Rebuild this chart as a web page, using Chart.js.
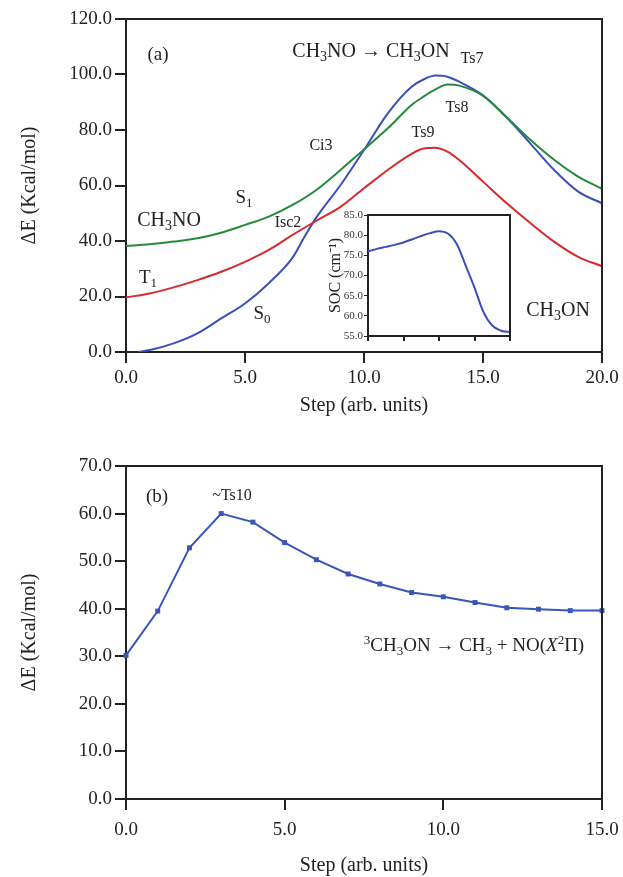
<!DOCTYPE html>
<html>
<head>
<meta charset="utf-8">
<script src="https://cdn.jsdelivr.net/npm/chart.js@4"></script>
<style>
  html, body { margin: 0; padding: 0; background: #fff; }
  body { width: 623px; height: 877px; position: relative; overflow: hidden; }
  canvas { position: absolute; }
</style>
</head>
<body>
<canvas id="chartA" style="left:0;top:0" width="623" height="430"></canvas>
<canvas id="chartInset" style="left:300px;top:205px" width="220" height="142"></canvas>
<canvas id="chartB" style="left:0;top:445px" width="623" height="432"></canvas>
<script>
// данные панели (a)
const topSteps = [0, 1, 2, 3, 4, 5, 6, 7, 8, 9, 10, 11, 12, 12.5, 13, 13.5, 14, 15, 16, 17, 18, 19, 20];
const s1Values = [38.2, 38.8, 39.8, 41.0, 43.0, 45.8, 48.8, 53.0, 58.4, 65.5, 73.0, 80.6, 89.0, 92.0, 94.6, 96.4, 96.0, 92.3, 84.5, 76.4, 69.2, 63.2, 58.8];
const t1Values = [19.7, 21.1, 23.3, 25.9, 28.9, 32.5, 36.8, 42.2, 47.3, 52.2, 59.0, 65.6, 71.4, 73.3, 73.6, 72.2, 69.2, 61.4, 53.6, 46.4, 39.7, 34.3, 30.9];
const s0Steps = [0.5, 1, 2, 3, 4, 5, 6, 7, 7.5, 8, 9, 10, 11, 12, 12.5, 13, 13.5, 14, 15, 16, 17, 18, 19, 20];
const s0Values = [0, 0.7, 3.1, 6.7, 12.1, 17.5, 24.8, 34.0, 41.5, 48.5, 60.0, 72.8, 86.0, 95.6, 98.2, 99.6, 99.2, 97.4, 92.5, 84.5, 75.0, 65.5, 57.8, 53.6];

// вставка SOC
const insetSteps = [0, 0.25, 0.5, 0.75, 1, 1.25, 1.5, 1.75, 2, 2.25, 2.5, 2.75, 3, 3.25, 3.5, 3.75, 4];
const socValues = [76.0, 76.6, 77.1, 77.6, 78.2, 79.0, 79.8, 80.5, 81.0, 80.4, 77.8, 72.5, 67.0, 61.0, 57.6, 56.3, 56.0];

// данные панели (b)
const bSteps = [0, 1, 2, 3, 4, 5, 6, 7, 8, 9, 10, 11, 12, 13, 14, 15];
const bValues = [30.2, 39.5, 52.8, 60.0, 58.2, 53.9, 50.3, 47.3, 45.2, 43.4, 42.5, 41.3, 40.2, 39.9, 39.6, 39.6];

const SERIF = '"Liberation Serif", "Times New Roman", serif';
const BLUE = '#3a50b6';
const GREEN = '#258a3c';
const RED = '#d42b2b';

function pts(xs, ys) {
    return xs.map((x, i) => ({ x: x, y: ys[i] }));
}

// текст с индексами: части [текст, 'sub'|'sup'|'it'|'']
function drawRich(ctx, cx, baseline, parts, size) {
    const small = Math.round(size * 0.68);
    let total = 0;
    parts.forEach(p => {
        const mode = p[1] || '';
        const sz = (mode === 'sub' || mode === 'sup') ? small : size;
        ctx.font = (mode === 'it' ? 'italic ' : '') + sz + 'px ' + SERIF;
        total += ctx.measureText(p[0]).width;
    });
    let x = cx - total / 2;
    ctx.textAlign = 'left';
    ctx.textBaseline = 'alphabetic';
    ctx.fillStyle = '#222';
    parts.forEach(p => {
        const mode = p[1] || '';
        const sz = (mode === 'sub' || mode === 'sup') ? small : size;
        ctx.font = (mode === 'it' ? 'italic ' : '') + sz + 'px ' + SERIF;
        let y = baseline;
        if (mode === 'sub') y += size * 0.22;
        if (mode === 'sup') y -= size * 0.38;
        ctx.fillText(p[0], x, y);
        x += ctx.measureText(p[0]).width;
    });
}

// рамка сверху и справа
const framePlugin = {
    id: 'frame',
    beforeDraw(chart) {
        const opts = chart.options.plugins.frame || {};
        if (opts.fill) {
            const a = chart.chartArea;
            chart.ctx.save();
            chart.ctx.fillStyle = '#fff';
            chart.ctx.fillRect(a.left, a.top, a.right - a.left, a.bottom - a.top);
            chart.ctx.restore();
        }
    },
    afterDraw(chart) {
        const a = chart.chartArea;
        const ctx = chart.ctx;
        const opts = chart.options.plugins.frame || {};
        ctx.save();
        ctx.strokeStyle = '#222';
        ctx.lineWidth = opts.width || 2;
        ctx.beginPath();
        ctx.moveTo(a.left, a.top);
        ctx.lineTo(a.right, a.top);
        ctx.lineTo(a.right, a.bottom);
        ctx.stroke();
        ctx.restore();
    }
};

// подписи на графиках
const labelsPlugin = {
    id: 'labels',
    afterDatasetsDraw(chart) {
        const list = chart.options.plugins.labels.items || [];
        const ctx = chart.ctx;
        ctx.save();
        list.forEach(it => drawRich(ctx, it.x, it.y, it.parts, it.size));
        ctx.restore();
    }
};

function axisX(min, max, step, boxHeight, pad) {
    return {
        type: 'linear', min: min, max: max,
        afterFit: s => { s.height = boxHeight; s.paddingLeft = 0; s.paddingRight = 0; },
        border: { display: true, color: '#222', width: 2 },
        grid: { display: true, drawOnChartArea: false, drawTicks: true, tickLength: 11, color: '#222', lineWidth: 2 },
        ticks: {
            stepSize: step, padding: pad, color: '#222',
            font: { family: SERIF, size: 19 },
            callback: v => v.toFixed(1), maxRotation: 0
        }
    };
}

function axisY(min, max, step, boxWidth) {
    return {
        type: 'linear', min: min, max: max,
        afterFit: s => { s.width = boxWidth; },
        border: { display: true, color: '#222', width: 2 },
        grid: { display: true, drawOnChartArea: false, drawTicks: true, tickLength: 11, color: '#222', lineWidth: 2 },
        ticks: {
            stepSize: step, padding: 3, color: '#222',
            font: { family: SERIF, size: 19 },
            callback: v => v.toFixed(1)
        }
    };
}

const titleFont = { family: SERIF, size: 20 };

// панель (a)
const xA = axisX(0, 20, 5, 78, 4);
xA.title = { display: true, text: 'Step (arb. units)', color: '#222', font: titleFont, padding: { top: 0, bottom: 12 } };
const yA = axisY(0, 120, 20, 126);
yA.title = { display: true, text: 'ΔE (Kcal/mol)', color: '#222', font: titleFont, padding: { top: 18, bottom: 0 } };

new Chart(document.getElementById('chartA'), {
    type: 'line',
    data: {
        datasets: [
            { label: 'S1', data: pts(topSteps, s1Values), borderColor: GREEN },
            { label: 'T1', data: pts(topSteps, t1Values), borderColor: RED },
            { label: 'S0', data: pts(s0Steps, s0Values), borderColor: BLUE }
        ].map(d => Object.assign(d, { borderWidth: 2, pointRadius: 0, tension: 0.4, cubicInterpolationMode: 'monotone', fill: false }))
    },
    options: {
        responsive: false, animation: false,
        layout: { autoPadding: false, padding: { top: 19, right: 21, left: 0, bottom: 0 } },
        scales: { x: xA, y: yA },
        plugins: {
            legend: { display: false }, tooltip: { enabled: false },
            frame: { width: 2 },
            labels: {
                items: [
                    { x: 158, y: 60, size: 19, parts: [['(a)']] },
                    { x: 371, y: 57, size: 20, parts: [['CH'], ['3', 'sub'], ['NO → CH'], ['3', 'sub'], ['ON']] },
                    { x: 472, y: 63, size: 16, parts: [['Ts7']] },
                    { x: 457, y: 112, size: 16, parts: [['Ts8']] },
                    { x: 423, y: 137, size: 16, parts: [['Ts9']] },
                    { x: 321, y: 150, size: 16, parts: [['Ci3']] },
                    { x: 244, y: 203, size: 19, parts: [['S'], ['1', 'sub']] },
                    { x: 288, y: 227, size: 16, parts: [['Isc2']] },
                    { x: 169, y: 226, size: 20, parts: [['CH'], ['3', 'sub'], ['NO']] },
                    { x: 148, y: 283, size: 19, parts: [['T'], ['1', 'sub']] },
                    { x: 262, y: 319, size: 19, parts: [['S'], ['0', 'sub']] },
                    { x: 558, y: 316, size: 20, parts: [['CH'], ['3', 'sub'], ['ON']] }
                ]
            }
        }
    },
    plugins: [framePlugin, labelsPlugin]
});

// вставка SOC
new Chart(document.getElementById('chartInset'), {
    type: 'line',
    data: {
        datasets: [{
            data: pts(insetSteps, socValues), borderColor: BLUE, borderWidth: 2,
            pointRadius: 0, tension: 0.4, cubicInterpolationMode: 'monotone', fill: false
        }]
    },
    options: {
        responsive: false, animation: false,
        layout: { autoPadding: false, padding: { top: 10, right: 10, left: 0, bottom: 0 } },
        scales: {
            x: {
                type: 'linear', min: 0, max: 4,
                afterFit: s => { s.height = 11; },
                border: { display: true, color: '#222', width: 2 },
                grid: { display: true, drawOnChartArea: false, tickLength: 5, color: '#222', lineWidth: 2 },
                ticks: { stepSize: 1, display: false }
            },
            y: {
                type: 'linear', min: 55, max: 85,
                afterFit: s => { s.width = 68; },
                border: { display: true, color: '#222', width: 2 },
                grid: { display: true, drawOnChartArea: false, tickLength: 4, color: '#222', lineWidth: 1 },
                ticks: { stepSize: 5, padding: 1, color: '#333', font: { family: SERIF, size: 11 }, callback: v => v.toFixed(1) },
                title: { display: true, text: 'SOC (cm⁻¹)', color: '#222', font: { family: SERIF, size: 16 }, padding: { top: 26, bottom: 0 } }
            }
        },
        plugins: {
            legend: { display: false }, tooltip: { enabled: false },
            frame: { width: 2, fill: true },
            labels: { items: [] }
        }
    },
    plugins: [framePlugin, labelsPlugin]
});

// панель (b)
const xB = axisX(0, 15, 5, 78, 9);
xB.title = { display: true, text: 'Step (arb. units)', color: '#222', font: { family: SERIF, size: 20, lineHeight: 1.0 }, padding: { top: 0, bottom: 1 } };
const yB = axisY(0, 70, 10, 126);
yB.title = { display: true, text: 'ΔE (Kcal/mol)', color: '#222', font: titleFont, padding: { top: 18, bottom: 0 } };

new Chart(document.getElementById('chartB'), {
    type: 'line',
    data: {
        datasets: [{
            data: pts(bSteps, bValues), borderColor: '#3a56b8', backgroundColor: '#3a56b8',
            borderWidth: 2, pointStyle: 'rect', pointRadius: 3.5, pointBorderWidth: 0,
            tension: 0, fill: false, clip: false
        }]
    },
    options: {
        responsive: false, animation: false,
        layout: { autoPadding: false, padding: { top: 21, right: 21, left: 0, bottom: 0 } },
        scales: { x: xB, y: yB },
        plugins: {
            legend: { display: false }, tooltip: { enabled: false },
            frame: { width: 2 },
            labels: {
                items: [
                    { x: 157, y: 57, size: 19, parts: [['(b)']] },
                    { x: 232, y: 55, size: 16, parts: [['~Ts10']] },
                    { x: 474, y: 206, size: 19, parts: [['3', 'sup'], ['CH'], ['3', 'sub'], ['ON → CH'], ['3', 'sub'], [' + NO('], ['X', 'it'], ['2', 'sup'], ['Π)']] }
                ]
            }
        }
    },
    plugins: [framePlugin, labelsPlugin]
});
</script>
</body>
</html>
